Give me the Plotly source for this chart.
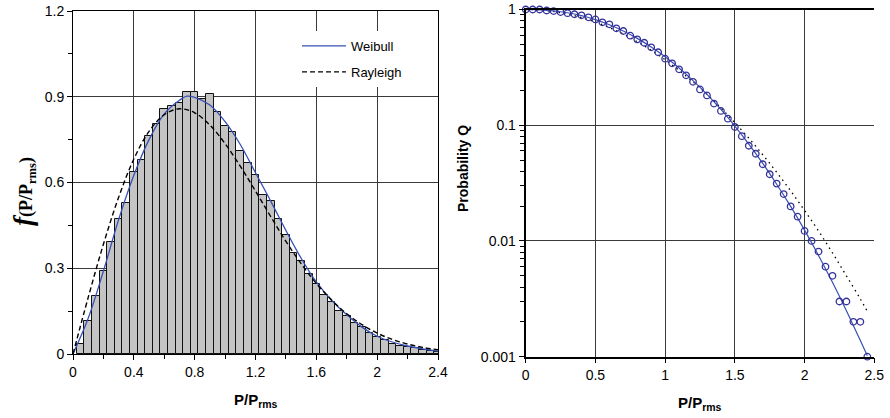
import plotly.graph_objects as go

# ---------------- data ----------------
hist_x = [0.05, 0.10, 0.15, 0.20, 0.25, 0.30, 0.35, 0.40, 0.45, 0.50, 0.55, 0.60,
          0.65, 0.70, 0.75, 0.80, 0.85, 0.90, 0.95, 1.00, 1.05, 1.10, 1.15, 1.20,
          1.25, 1.30, 1.35, 1.40, 1.45, 1.50, 1.55, 1.60, 1.65, 1.70, 1.75, 1.80,
          1.85, 1.90, 1.95, 2.00, 2.05, 2.10, 2.15, 2.20, 2.25, 2.30, 2.35, 2.40]
hist_y = [0.036, 0.117, 0.204, 0.289, 0.391, 0.471, 0.528, 0.636, 0.677, 0.761, 0.803, 0.858,
          0.867, 0.877, 0.915, 0.915, 0.893, 0.911, 0.848, 0.798, 0.778, 0.711, 0.669, 0.628,
          0.557, 0.535, 0.473, 0.418, 0.355, 0.326, 0.281, 0.244, 0.208, 0.183, 0.149, 0.134,
          0.110, 0.095, 0.074, 0.060, 0.048, 0.036, 0.029, 0.025, 0.020, 0.015, 0.012, 0.008]

weib_pdf_x = [0, 0.1, 0.2, 0.3, 0.4, 0.5, 0.6, 0.7, 0.75, 0.8, 0.9, 1.0, 1.1, 1.2, 1.3,
              1.4, 1.5, 1.6, 1.7, 1.8, 1.9, 2.0, 2.1, 2.2, 2.3, 2.4]
weib_pdf_y = [0, 0.125, 0.29, 0.47, 0.625, 0.75, 0.84, 0.888, 0.902, 0.898, 0.871, 0.813,
              0.733, 0.634, 0.535, 0.432, 0.335, 0.252, 0.188, 0.137, 0.094, 0.062, 0.042,
              0.028, 0.018, 0.010]

rayl_pdf_x = [0, 0.1, 0.2, 0.3, 0.4, 0.5, 0.6, 0.7, 0.8, 0.9, 1.0, 1.1, 1.2, 1.3, 1.4,
              1.5, 1.6, 1.7, 1.8, 1.9, 2.0, 2.1, 2.2, 2.3, 2.4]
rayl_pdf_y = [0, 0.198, 0.384, 0.548, 0.682, 0.779, 0.837, 0.858, 0.844, 0.801, 0.736,
              0.657, 0.570, 0.481, 0.394, 0.316, 0.247, 0.189, 0.141, 0.103, 0.073, 0.051,
              0.035, 0.023, 0.015]

q_x = [0.00, 0.05, 0.10, 0.15, 0.20, 0.25, 0.30, 0.35, 0.40, 0.45, 0.50, 0.55, 0.60,
       0.65, 0.70, 0.75, 0.80, 0.85, 0.90, 0.95, 1.00, 1.05, 1.10, 1.15, 1.20, 1.25,
       1.30, 1.35, 1.40, 1.45, 1.50, 1.55, 1.60, 1.65, 1.70, 1.75, 1.80, 1.85, 1.90,
       1.95, 2.00, 2.05, 2.10, 2.15, 2.20, 2.25, 2.30, 2.35, 2.40, 2.45]
q_y = [1.0, 1.0, 1.0, 0.98, 0.97, 0.95, 0.93, 0.91, 0.89, 0.856, 0.82, 0.775, 0.745,
       0.688, 0.652, 0.594, 0.552, 0.516, 0.471, 0.427, 0.376, 0.343, 0.304, 0.27, 0.237,
       0.204, 0.181, 0.154, 0.133, 0.114, 0.0965, 0.0805, 0.0665, 0.0567, 0.046, 0.0377,
       0.0313, 0.0254, 0.0199, 0.0162, 0.0122, 0.0100, 0.0081, 0.0060, 0.0050, 0.0030,
       0.0030, 0.0020, 0.0020, 0.0010]

weib_q_x = [0, 0.1, 0.2, 0.3, 0.4, 0.5, 0.6, 0.7, 0.8, 0.9, 1.0, 1.1, 1.2, 1.3, 1.4,
            1.5, 1.6, 1.7, 1.8, 1.9, 2.0, 2.1, 2.2, 2.3, 2.4, 2.45]
weib_q_y = [1, 0.994, 0.974, 0.937, 0.884, 0.817, 0.738, 0.653, 0.563, 0.474, 0.390,
            0.312, 0.243, 0.185, 0.137, 0.0984, 0.0688, 0.0468, 0.0309, 0.0199, 0.0124,
            0.0075, 0.0044, 0.0025, 0.00138, 0.00102]

rayl_q_x = [0, 0.1, 0.2, 0.3, 0.4, 0.5, 0.6, 0.7, 0.8, 0.9, 1.0, 1.1, 1.2, 1.3, 1.4,
            1.5, 1.6, 1.7, 1.8, 1.9, 2.0, 2.1, 2.2, 2.3, 2.4, 2.45]
rayl_q_y = [1, 0.990, 0.961, 0.914, 0.852, 0.779, 0.698, 0.613, 0.527, 0.445, 0.368,
            0.298, 0.237, 0.185, 0.141, 0.105, 0.0773, 0.0556, 0.0392, 0.0271, 0.0183,
            0.0122, 0.0079, 0.0050, 0.00315, 0.00247]

left_xticks = [0, 0.4, 0.8, 1.2, 1.6, 2.0, 2.4]
left_xlabels = ["0", "0.4", "0.8", "1.2", "1.6", "2", "2.4"]
left_yticks = [0, 0.3, 0.6, 0.9, 1.2]
left_ylabels = ["0", "0.3", "0.6", "0.9", "1.2"]
right_xticks = [0, 0.5, 1, 1.5, 2, 2.5]
right_xlabels = ["0", "0.5", "1", "1.5", "2", "2.5"]
right_yticks = [0.001, 0.01, 0.1, 1]
right_ylabels = ["0.001", "0.01", "0.1", "1"]

# ---------------- figure ----------------
W, H = 890, 418


def px(x):
    return x / W


def py(y):
    return 1 - y / H


BLUE = "#3650b4"
MARK = "#34309a"
GRID = "#3a3a3a"
FONT = "Liberation Sans, Arial, sans-serif"

fig = go.Figure()

fig.add_trace(go.Bar(x=hist_x, y=hist_y, width=0.05, xaxis="x", yaxis="y",
                     marker=dict(color="#c3c4c3", line=dict(color="#111111", width=1)),
                     showlegend=False, hoverinfo="skip"))
fig.add_trace(go.Scatter(x=weib_pdf_x, y=weib_pdf_y, xaxis="x", yaxis="y", mode="lines",
                         line=dict(color=BLUE, width=1.3, shape="spline"),
                         name="Weibull", legendgroup="a"))
fig.add_trace(go.Scatter(x=rayl_pdf_x, y=rayl_pdf_y, xaxis="x", yaxis="y", mode="lines",
                         line=dict(color="black", width=1.4, dash="5px,3px", shape="spline"),
                         name="Rayleigh", legendgroup="b"))

fig.add_trace(go.Scatter(x=rayl_q_x, y=rayl_q_y, xaxis="x2", yaxis="y2", mode="lines",
                         line=dict(color="black", width=1.3, dash="1.5px,4px", shape="spline"),
                         showlegend=False, cliponaxis=False))
fig.add_trace(go.Scatter(x=weib_q_x, y=weib_q_y, xaxis="x2", yaxis="y2", mode="lines",
                         line=dict(color=BLUE, width=1.2, shape="spline"),
                         showlegend=False, cliponaxis=False))
fig.add_trace(go.Scatter(x=q_x, y=q_y, xaxis="x2", yaxis="y2", mode="markers",
                         marker=dict(symbol="circle-open", size=6.5, color=MARK,
                                     line=dict(width=1.3, color=MARK)),
                         showlegend=False, cliponaxis=False))

xd1 = [px(73), px(438)]
yd1 = [py(354), py(11)]
xd2 = [px(525.7), px(874.3)]
yd2 = [py(356.7), py(9.5)]

minor_log = []
for e in (-3, -2, -1):
    for k in range(2, 10):
        minor_log.append(k * 10 ** e)

tickfont = dict(family=FONT, size=14, color="black")

fig.update_layout(
    width=W, height=H,
    margin=dict(l=0, r=0, t=0, b=0, pad=0, autoexpand=False),
    paper_bgcolor="white", plot_bgcolor="white",
    bargap=0,
    showlegend=True,
    hovermode=False,
    legend=dict(x=px(297), y=py(31), xanchor="left", yanchor="top",
                bgcolor="white", borderwidth=0, font=dict(family=FONT, size=13, color="black"),
                tracegroupgap=6, itemwidth=44, traceorder="grouped"),
    xaxis=dict(domain=xd1, range=[0, 2.4], anchor="y",
               tickvals=left_xticks, ticktext=left_xlabels, tickfont=tickfont,
               ticks="outside", ticklen=5, tickcolor="black",
               showgrid=True, gridcolor=GRID, gridwidth=1, zeroline=False,
               showline=True, linecolor="black", linewidth=1, mirror=True,
               minor=dict(tickvals=[0.2, 0.6, 1.0, 1.4, 1.8, 2.2], ticks="outside",
                          ticklen=4, tickcolor="black", showgrid=False)),
    yaxis=dict(domain=yd1, range=[0, 1.2], anchor="x",
               tickvals=left_yticks, ticktext=left_ylabels, tickfont=tickfont,
               ticks="outside", ticklen=5, tickcolor="black",
               showgrid=True, gridcolor=GRID, gridwidth=1, zeroline=False,
               showline=True, linecolor="black", linewidth=1, mirror=True,
               minor=dict(tickvals=[0.15, 0.45, 0.75, 1.05], ticks="outside",
                          ticklen=4, tickcolor="black", showgrid=False)),
    xaxis2=dict(domain=xd2, range=[0, 2.5], anchor="y2",
                tickvals=right_xticks, ticktext=right_xlabels, tickfont=tickfont,
                ticks="outside", ticklen=5, tickcolor="black",
                showgrid=True, gridcolor=GRID, gridwidth=1, zeroline=False,
                showline=True, linecolor="black", linewidth=1.5, mirror=True),
    yaxis2=dict(domain=yd2, type="log", range=[-3, 0], anchor="x2",
                tickvals=right_yticks, ticktext=right_ylabels, tickfont=tickfont,
                ticks="outside", ticklen=5, tickcolor="black",
                showgrid=True, gridcolor=GRID, gridwidth=1, zeroline=False,
                showline=True, linecolor="black", linewidth=2, mirror=False,
                minor=dict(tickvals=minor_log, ticks="outside", ticklen=4,
                           tickcolor="black", showgrid=False)),
)

annotations = [
    dict(text="<b>P/P<sub>rms</sub></b>", x=px(255.5), y=py(400), xref="paper", yref="paper",
         xanchor="center", yanchor="middle", showarrow=False,
         font=dict(family=FONT, size=15, color="black")),
    dict(text="<b>P/P<sub>rms</sub></b>", x=px(700), y=py(403), xref="paper", yref="paper",
         xanchor="center", yanchor="middle", showarrow=False,
         font=dict(family=FONT, size=15, color="black")),
    dict(text="<span style='font-size:27px'><b><i>f</i></b></span><b>(P/P<sub>rms</sub>)</b>",
         x=px(24), y=py(192), xref="paper", yref="paper", textangle=-90,
         xanchor="center", yanchor="middle", showarrow=False,
         font=dict(family="Liberation Serif, Times New Roman, serif", size=18, color="black")),
    dict(text="<b>Probability Q</b>", x=px(463), y=py(168), xref="paper", yref="paper",
         textangle=-90, xanchor="center", yanchor="middle", showarrow=False,
         font=dict(family=FONT, size=14, color="black")),
]
fig.update_layout(annotations=annotations)

# the page body's default 8px margin would shift the 890x418 figure; remove it
fig.write_html("out.html", config={"displayModeBar": False},
               post_script="document.body.style.margin='0px';")
